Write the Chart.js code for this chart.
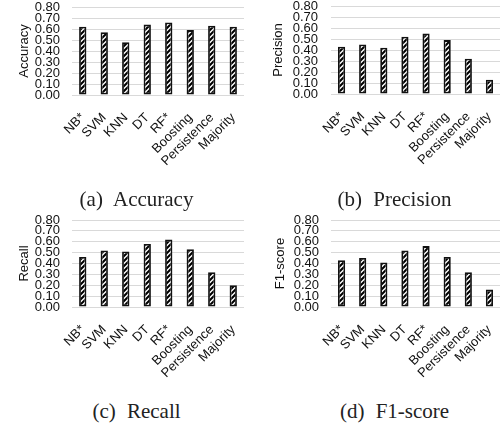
<!DOCTYPE html>
<html>
<head>
<meta charset="utf-8">
<script src="https://cdn.jsdelivr.net/npm/chart.js@4/dist/chart.umd.min.js"></script>
<style>
  html, body { margin: 0; padding: 0; background: #fff; }
  #wrap { position: relative; width: 502px; height: 425px; overflow: hidden; }
  canvas { position: absolute; }
  .cap {
    position: absolute; width: 251px; text-align: center;
    font-family: "Liberation Serif", "Times New Roman", serif;
    font-size: 21px; line-height: 21px; color: #222; word-spacing: 6px;
  }
</style>
</head>
<body>
<div id="wrap">
  <canvas id="cAcc" width="251" height="180" style="left:0;top:0"></canvas>
  <canvas id="cPre" width="251" height="180" style="left:251px;top:0"></canvas>
  <canvas id="cRec" width="251" height="175" style="left:0;top:210px"></canvas>
  <canvas id="cF1"  width="251" height="175" style="left:251px;top:210px"></canvas>
  <div class="cap" style="left:11px;top:189px">(a) Accuracy</div>
  <div class="cap" style="left:269px;top:189px">(b) Precision</div>
  <div class="cap" style="left:11px;top:401px">(c) Recall</div>
  <div class="cap" style="left:269px;top:401px">(d) F1-score</div>
</div>
<script>
// Models compared
const categories = ['NB*', 'SVM', 'KNN', 'DT', 'RF*', 'Boosting', 'Persistence', 'Majority'];

// Scores per model
const accuracy  = [0.62, 0.57, 0.48, 0.64, 0.66, 0.59, 0.63, 0.62];
const precision = [0.43, 0.45, 0.42, 0.52, 0.55, 0.49, 0.32, 0.13];
const recall    = [0.46, 0.52, 0.51, 0.58, 0.62, 0.53, 0.32, 0.20];
const f1score   = [0.43, 0.45, 0.41, 0.52, 0.56, 0.46, 0.32, 0.16];

// Shared value axis
const yMin = 0, yMax = 0.8, yStep = 0.1;

const FONT = '"Liberation Sans", Arial, sans-serif';

// Diagonal hatch fill for the bars
function hatchPattern(ctx) {
  const s = 5;
  const c = document.createElement('canvas');
  c.width = s; c.height = s;
  const g = c.getContext('2d');
  g.fillStyle = '#fff';
  g.fillRect(0, 0, s, s);
  g.strokeStyle = '#000';
  g.lineWidth = 2.1;
  g.beginPath();
  g.moveTo(0, s); g.lineTo(s, 0);
  g.moveTo(-1, 1); g.lineTo(1, -1);
  g.moveTo(s - 1, s + 1); g.lineTo(s + 1, s - 1);
  g.stroke();
  return ctx.createPattern(c, 'repeat');
}

function makePanel(id, title, values, p) {
  const canvas = document.getElementById(id);
  const ctx = canvas.getContext('2d');
  return new Chart(ctx, {
    type: 'bar',
    data: {
      labels: categories,
      datasets: [{
        data: values,
        backgroundColor: hatchPattern(ctx),
        borderColor: '#111',
        borderWidth: 1.8,
        borderSkipped: false,
        barPercentage: 0.34,
        categoryPercentage: 1.0
      }]
    },
    options: {
      responsive: false,
      animation: false,
      devicePixelRatio: 1,
      layout: { padding: { left: 0, right: p.right, top: p.top, bottom: 0 } },
      plugins: { legend: { display: false }, tooltip: { enabled: false } },
      scales: {
        x: {
          grid: { display: false },
          border: { display: false },
          ticks: {
            color: '#111',
            font: { family: FONT, size: 13 },
            minRotation: 45, maxRotation: 45,
            autoSkip: false,
            padding: p.xPad
          },
          afterFit: s => {
            s.height = p.xHeight;
            s.paddingLeft = 0;
            s.paddingRight = 0;
          }
        },
        y: {
          min: yMin, max: yMax,
          grid: { color: '#d9d9d9', lineWidth: 1, drawTicks: false },
          border: { display: false },
          ticks: {
            stepSize: yStep,
            autoSkip: false,
            color: '#111',
            font: { family: FONT, size: 13, lineHeight: 1.0 },
            padding: p.yPad,
            callback: v => Number(v).toFixed(2)
          },
          title: {
            display: true, text: title, color: '#111',
            font: { family: FONT, size: 13 },
            padding: { top: p.titlePad, bottom: 0 }
          },
          afterFit: s => {
            s.width = p.yWidth;
            s.paddingTop = 0;
            s.paddingBottom = 0;
          }
        }
      }
    }
  });
}

makePanel('cAcc', 'Accuracy',  accuracy,  { right: 7, top: 7,  xHeight: 85, xPad: 7, yWidth: 72, yPad: 12, titlePad: 17 });
makePanel('cPre', 'Precision', precision, { right: 2, top: 6,  xHeight: 86, xPad: 7, yWidth: 80, yPad: 13, titlePad: 20 });
makePanel('cRec', 'Recall',    recall,    { right: 7, top: 10, xHeight: 78, xPad: 7, yWidth: 72, yPad: 12, titlePad: 17 });
makePanel('cF1',  'F1-score',  f1score,   { right: 2, top: 10, xHeight: 78, xPad: 7, yWidth: 80, yPad: 12, titlePad: 22 });
</script>
</body>
</html>
